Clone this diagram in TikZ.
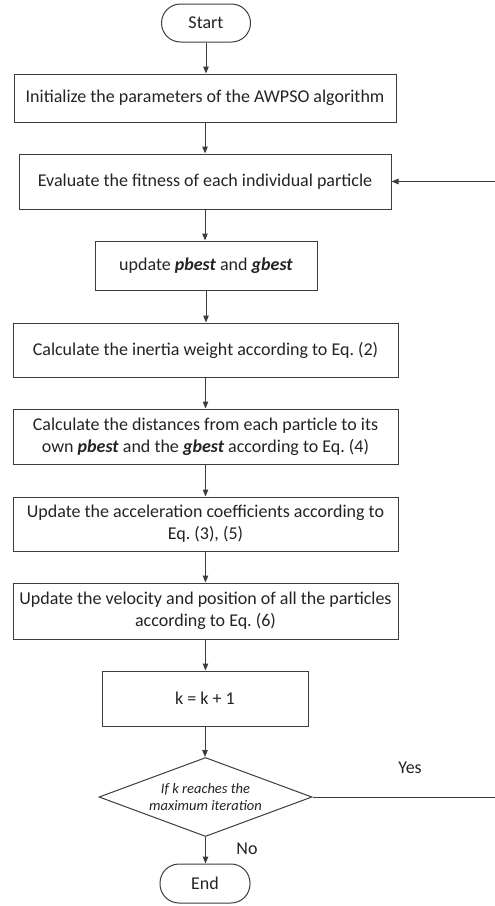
\documentclass[tikz,border=0pt]{standalone}
\usepackage{fontspec}
\setmainfont{Carlito}
\usepackage{tikz}
\usetikzlibrary{
  arrows.meta,
  positioning,
  shapes.geometric
}
\definecolor{linegray}{RGB}{60,60,60}
\definecolor{textgray}{RGB}{35,35,35}
\newcommand{\bivar}[1]{\textbf{\textit{#1}}}
\frenchspacing

\begin{document}
\begin{tikzpicture}[x=1pt, y=-1pt,
  every node/.style={font=\fontsize{18}{21.7}\selectfont, text=textgray},
  stepbox/.style={draw=linegray, line width=1pt, inner sep=0pt, align=center},
  termbox/.style={stepbox, rounded corners=19pt},
  decide/.style={diamond, draw=linegray, line width=1pt, inner sep=0pt, aspect=2.7,
    align=center, font=\fontsize{14.5}{17.7}\selectfont\itshape},
  flow/.style={-{Triangle[length=7pt,width=5.5pt]}, linegray, line width=1pt}]
  \useasboundingbox (0,0) rectangle (495,906);
  \node[termbox, minimum width=89pt, minimum height=38pt] (start) at (206,23) {Start};
  \node[stepbox, minimum width=382pt, minimum height=48pt] (init) at (205,98)
    {Initialize the parameters of the AWPSO algorithm};
  \node[stepbox, minimum width=372pt, minimum height=55pt] (eval) at (205,181.5)
    {Evaluate the fitness of each individual particle};
  \node[stepbox, minimum width=222pt, minimum height=49pt] (upd) at (206,265.5)
    {update \bivar{pbest} and \bivar{gbest}};
  \node[stepbox, minimum width=385pt, minimum height=54pt] (inertia) at (205.5,350)
    {Calculate the inertia weight according to Eq. (2)};
  \node[stepbox, minimum width=385pt, minimum height=55pt] (dist) at (205.5,436.5)
    {Calculate the distances from each particle to its\\own \bivar{pbest} and the \bivar{gbest} according to Eq. (4)};
  \node[stepbox, minimum width=385pt, minimum height=54pt] (accel) at (205.5,524)
    {Update the acceleration coefficients according to\\Eq. (3), (5)};
  \node[stepbox, minimum width=385pt, minimum height=56pt] (vel) at (205.5,611)
    {Update the velocity and position of all the particles\\according to Eq. (6)};
  \node[stepbox, minimum width=206pt, minimum height=55pt] (kinc) at (205,698.5) {k = k + 1};
  \node[decide, minimum width=213pt, minimum height=79pt] (check) at (205.5,797)
    {If k reaches the\\maximum iteration};
  \node[termbox, minimum width=90pt, minimum height=39pt] (finish) at (205,883.5) {End};

  \foreach \a/\b in {start/init, init/eval, eval/upd, upd/inertia, inertia/dist,
    dist/accel, accel/vel, vel/kinc, kinc/check, check/finish}
    \draw[flow] (\a.south) -- (\a.south |- \b.north);

  \coordinate (loopin) at (495,181.5);
  \coordinate (loopout) at (495,797);
  \draw[flow] (loopin) -- (eval.east);
  \draw[linegray, line width=1pt] (check.east) -- (loopout);
  \node (yes) at (410,768) {Yes};
  \node (no) at (247,849) {No};
\end{tikzpicture}
\end{document}
